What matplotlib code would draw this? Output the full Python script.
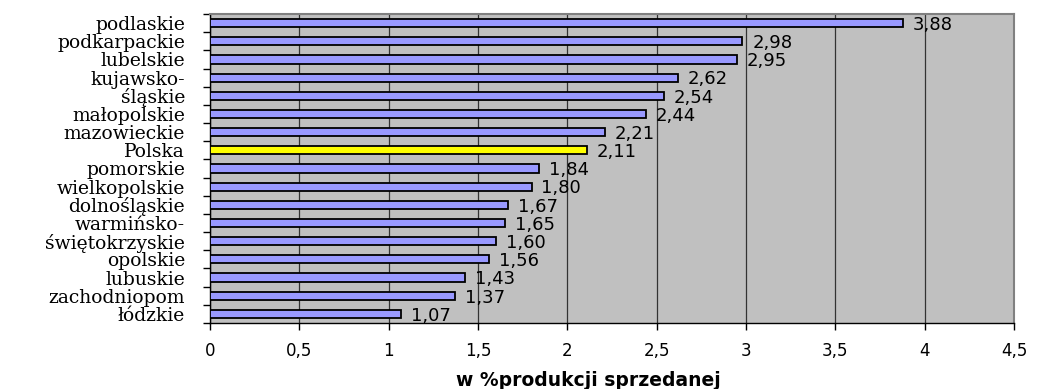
import numpy as np
import matplotlib.pyplot as plt
from matplotlib.ticker import FixedLocator

# regions sorted from top to bottom as drawn
regiony = ['podlaskie', 'podkarpackie', 'lubelskie', 'kujawsko-', 'śląskie',
           'małopolskie', 'mazowieckie', 'Polska', 'pomorskie', 'wielkopolskie',
           'dolnośląskie', 'warmińsko-', 'świętokrzyskie', 'opolskie', 'lubuskie',
           'zachodniopom', 'łódzkie']
wartosci = [3.88, 2.98, 2.95, 2.62, 2.54, 2.44, 2.21, 2.11, 1.84, 1.80,
            1.67, 1.65, 1.60, 1.56, 1.43, 1.37, 1.07]
xticki = [0, 0.5, 1, 1.5, 2, 2.5, 3, 3.5, 4, 4.5]

fig = plt.figure(figsize=(10.39, 3.89), dpi=100)
ax = fig.add_axes([0.2021, 0.1697, 0.7738, 0.7943])
ax.set_facecolor('#C0C0C0')

n = len(regiony)
y = np.arange(n)[::-1]
kolory = ['#FFFF00' if r == 'Polska' else '#9999FF' for r in regiony]
ax.barh(y, wartosci, height=0.45, color=kolory, edgecolor='black', linewidth=1.3, zorder=3)

# wartosci przy slupkach, z przecinkiem dziesietnym
for yi, v in zip(y, wartosci):
    ax.text(v + 0.055, yi - 0.1, ('%.2f' % v).replace('.', ','), va='center', ha='left',
            fontsize=13, family='DejaVu Sans', zorder=4)

ax.set_xlim(0, 4.5)
ax.set_ylim(-0.5, n - 0.5)
ax.set_xticks(xticki)
ax.set_xticklabels([('%g' % t).replace('.', ',') for t in xticki], fontsize=12, family='DejaVu Sans')
ax.tick_params(axis='x', direction='out', length=5, width=1, pad=9, colors='black')
ax.xaxis.grid(True, color='#333333', linewidth=0.9, zorder=1)
ax.set_axisbelow(True)

ax.set_yticks(y)
ax.set_yticklabels(regiony, fontsize=13.5, family='DejaVu Serif', va='center_baseline')
ax.tick_params(axis='y', which='major', length=0, pad=18)
ax.yaxis.set_minor_locator(FixedLocator(np.arange(n + 1) - 0.5))
ax.tick_params(axis='y', which='minor', direction='out', length=5, width=1)

for s in ['top', 'right']:
    ax.spines[s].set_color('#808080')
    ax.spines[s].set_linewidth(1.5)
for s in ['left', 'bottom']:
    ax.spines[s].set_color('black')
    ax.spines[s].set_linewidth(1)

fig.text(588 / 1039, 1 - 381 / 389, 'w %produkcji sprzedanej', ha='center', va='center',
         fontsize=13.5, fontweight='bold', family='DejaVu Sans')

fig.savefig('out.png', dpi=100)
